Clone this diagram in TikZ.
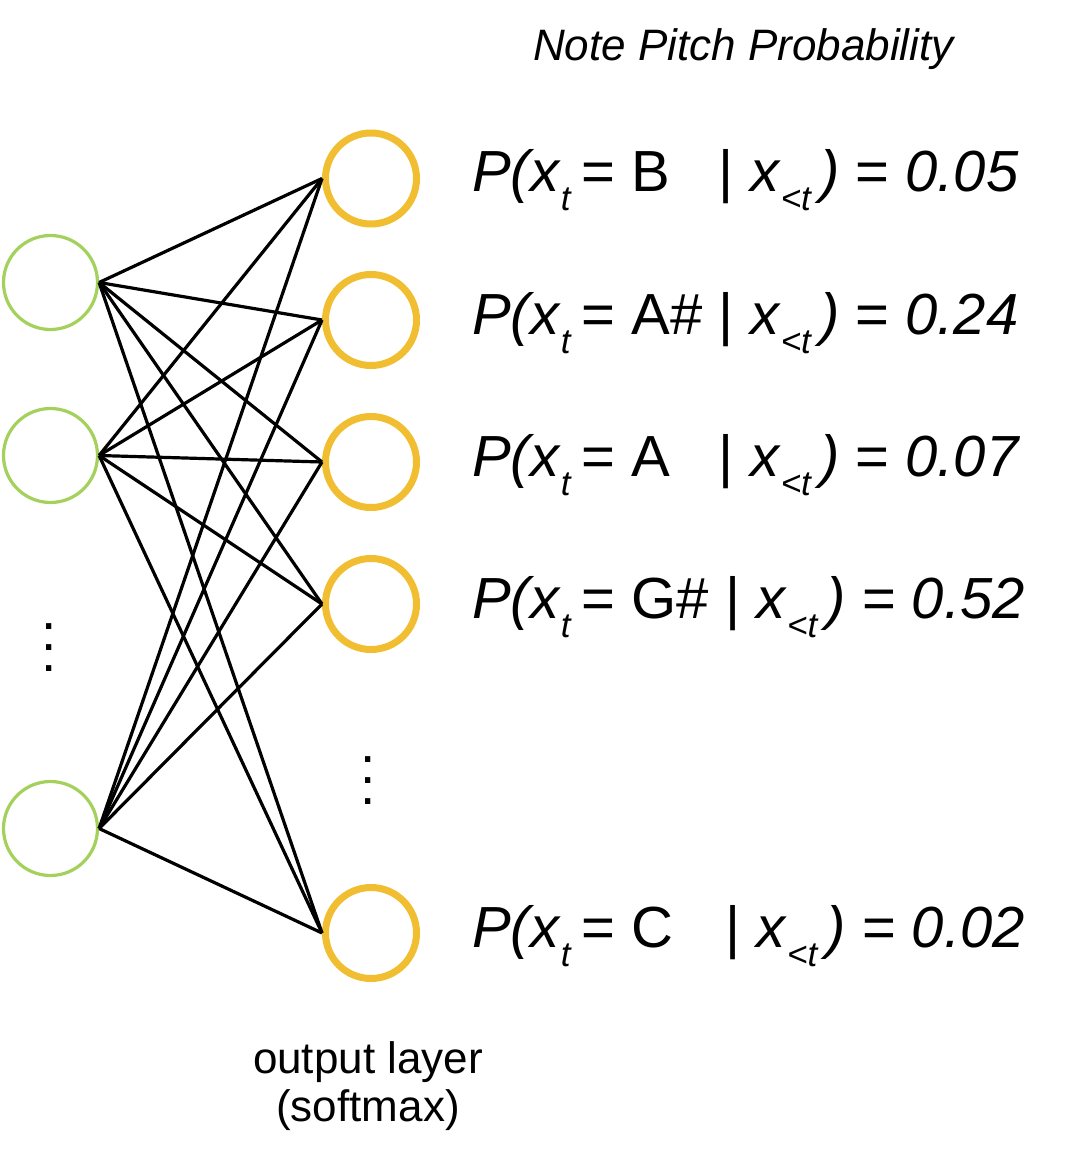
\documentclass[tikz,border=0pt]{standalone}
\usepackage{fontspec}
\setmainfont{Liberation Sans}
\definecolor{ingreen}{RGB}{164,209,92}
\definecolor{outorange}{RGB}{240,190,48}
\newcommand{\subsz}{\fontsize{35}{35}\selectfont}
\newcommand{\mysub}[1]{\raisebox{-19pt}{\subsz\textit{#1}}}
\newcommand{\plab}[3]{\textit{P(x}\mysub{t}\hspace{10pt}= \rlap{#1}\phantom{#2} | \textit{x}\mysub{<t}\hspace{8pt}\textit{)} = \textit{#3}}
\tikzset{
  innode/.style={circle, draw=ingreen, line width=3.2pt, minimum size=94pt, inner sep=0pt},
  outnode/.style={circle, draw=outorange, line width=7pt, minimum size=91pt, inner sep=0pt},
  conn/.style={draw=black, line width=3.2pt},
  plabel/.style={anchor=base west, inner sep=0pt, font=\fontsize{58}{60}\selectfont},
  dotmark/.style={anchor=base, inner sep=0pt, font=\fontsize{55}{55}\selectfont},
}
\begin{document}
\begin{tikzpicture}[x=1pt, y=-1pt]
\useasboundingbox (0,0) rectangle (1066,1166);
% input layer
\node[innode] (g1) at (50.5,282.5) {};
\node[innode] (g2) at (50.5,455.5) {};
\node[innode] (g3) at (50.5,828.5) {};
% output layer
\node[outnode] (o1) at (371,178.5) {};
\node[outnode] (o2) at (371,320) {};
\node[outnode] (o3) at (371,462) {};
\node[outnode] (o4) at (371,604) {};
\node[outnode] (o5) at (371,933) {};
% connections
\foreach \g in {g1,g2,g3}
  \foreach \o in {o1,o2,o3,o4,o5}
    \draw[conn] (\g.east) -- (\o.west);
% vertical ellipses
\node[dotmark] (gd1) at (49,629) {.};
\node[dotmark] (gd2) at (49,650) {.};
\node[dotmark] (gd3) at (49,671) {.};
\node[dotmark] (od1) at (368,762) {.};
\node[dotmark] (od2) at (368,783) {.};
\node[dotmark] (od3) at (368,804) {.};
% title
\node[anchor=base, inner sep=0pt, font=\fontsize{44}{46}\selectfont\itshape] (title) at (743.5,61) {Note Pitch Probability};
% probabilities
\node[plabel] (p1) at (472,192) {\plab{B}{A\#}{0.05}};
\node[plabel] (p2) at (472,334) {\plab{A\#}{A\#}{0.24}};
\node[plabel] (p3) at (472,476) {\plab{A}{A\#}{0.07}};
\node[plabel] (p4) at (472,618) {\plab{G\#}{G\#}{0.52}};
\node[plabel] (p5) at (472,947) {\plab{C}{G\#}{0.02}};
% layer label
\node[align=center, inner sep=0pt, font=\fontsize{44}{48}\selectfont] (lbl) at (368,1086) {output layer\\(softmax)};
\end{tikzpicture}
\end{document}
